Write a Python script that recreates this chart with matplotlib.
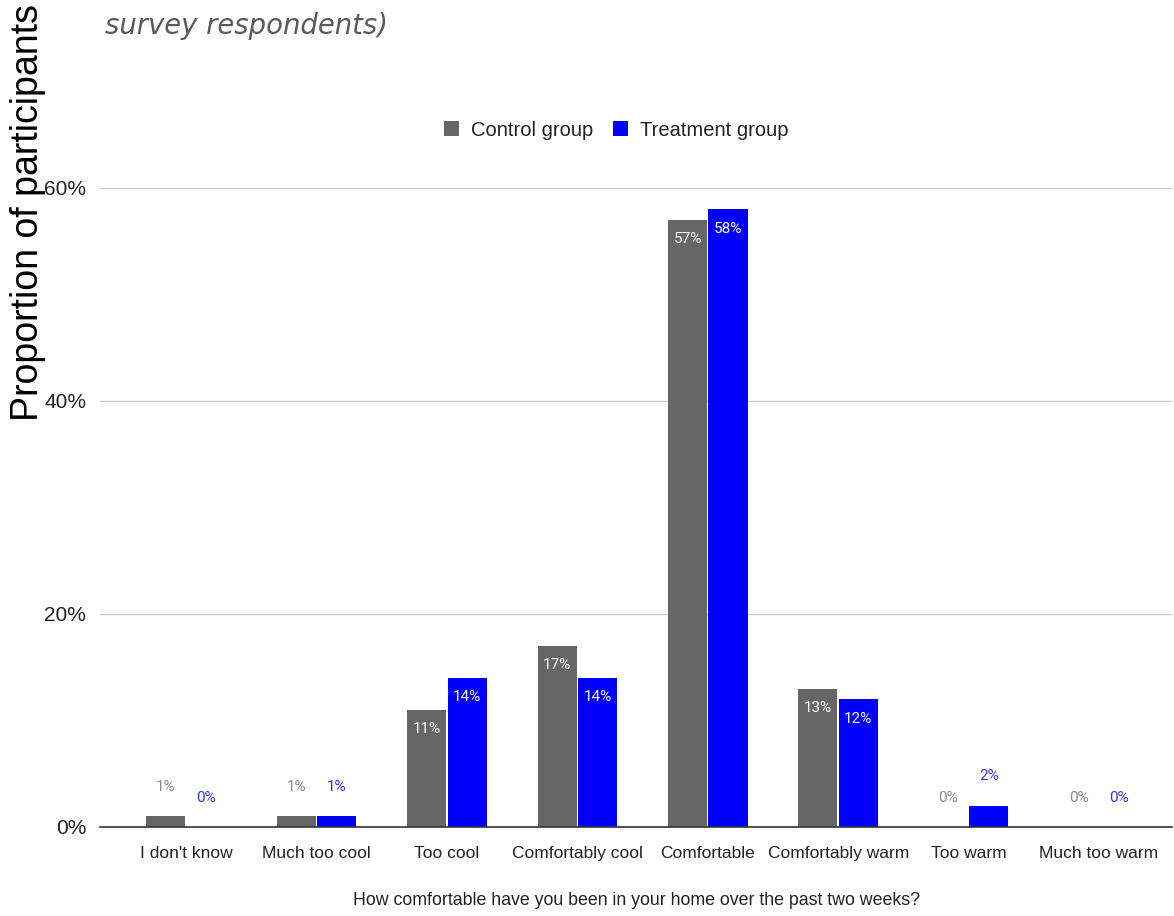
import numpy as np
import matplotlib.pyplot as plt

plt.rcParams['font.family'] = ['Liberation Sans', 'DejaVu Sans']

# survey answers, percent of respondents per group
categories = ['I don\'t know', 'Much too cool', 'Too cool', 'Comfortably cool',
              'Comfortable', 'Comfortably warm', 'Too warm', 'Much too warm']
control = [1, 1, 11, 17, 57, 13, 0, 0]
treatment = [0, 1, 14, 14, 58, 12, 2, 0]
yticks = [0, 20, 40, 60]

c_control = '#666666'
c_treat = '#0000ff'

fig = plt.figure(figsize=(11.74, 9.16), dpi=100)
ax = fig.add_axes([0.0852, 0.0972, 0.9131, 0.6976])

x = np.arange(len(categories))
w = 0.30
off = 0.155
b1 = ax.bar(x - off, control, w, color=c_control, label='Control group', zorder=3)
b2 = ax.bar(x + off, treatment, w, color=c_treat, label='Treatment group', zorder=3)

# value labels: white inside tall bars, coloured above short ones
def label_bars(bars, vals, outside_color):
    for rect, v in zip(bars, vals):
        cx = rect.get_x() + rect.get_width() / 2
        if v >= 5:
            ax.annotate(f'{v}%', (cx, v), xytext=(0, -14), textcoords='offset points',
                        ha='center', va='center', color='white', fontsize=11,
                        family=['Roboto', 'DejaVu Sans'], zorder=4)
        else:
            ax.annotate(f'{v}%', (cx, v), xytext=(0, 21), textcoords='offset points',
                        ha='center', va='center', color=outside_color, fontsize=11,
                        family=['Roboto', 'DejaVu Sans'], zorder=4)

label_bars(b1, control, '#8a8a8a')
label_bars(b2, treatment, '#3333ff')

ax.set_xlim(-0.66, 7.56)
ax.set_ylim(0, 60)
ax.set_yticks(yticks)
ax.set_yticklabels([f'{t}%' for t in yticks], fontsize=15, color='#222222')
ax.set_xticks(x)
ax.set_xticklabels(categories, fontsize=12.5, color='#222222')
ax.tick_params(axis='both', length=0, pad=10)
ax.tick_params(axis='x', pad=14)
ax.grid(axis='y', color='#cccccc', linewidth=1, zorder=0)
for s in ['top', 'right', 'left']:
    ax.spines[s].set_visible(False)
ax.spines['bottom'].set_color('#333333')
ax.spines['bottom'].set_linewidth(1.2)
ax.spines['bottom'].set_zorder(5)

ax.set_xlabel('How comfortable have you been in your home over the past two weeks?',
              fontsize=12.8, color='#222222', labelpad=22)

fig.text(0.024, 0.768, 'Proportion of participants', rotation=90, fontsize=27,
         ha='center', va='center', color='black')
fig.text(0.0894, 0.972, 'survey respondents)', fontsize=19.8, style='italic',
         color='#5a5a5a', ha='left', va='center', family=['DejaVu Sans'])

leg = fig.legend(handles=[b1, b2], loc='center', bbox_to_anchor=(0.525, 0.858),
                 ncol=2, frameon=False, fontsize=14.5, handlelength=0.75,
                 handleheight=0.8, handletextpad=0.6, columnspacing=1.0)
for t in leg.get_texts():
    t.set_color('#222222')

fig.savefig('out.png', dpi=100)
